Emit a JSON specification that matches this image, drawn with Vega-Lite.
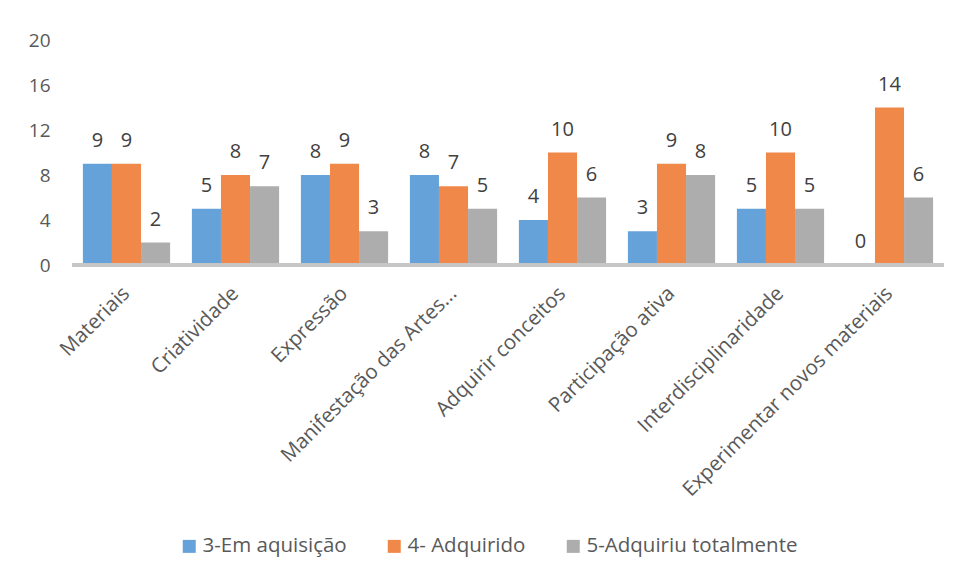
{
  "$schema": "https://vega.github.io/schema/vega-lite/v6.json",
  "width": 872,
  "height": 225,
  "autosize": {"type": "none"},
  "padding": {"left": 72, "top": 40, "right": 11, "bottom": 313},
  "background": "#ffffff",
  "config": {
    "view": {"stroke": null},
    "font": "Open Sans",
    "axis": {"labelFont": "Open Sans", "labelColor": "#595959", "domain": false, "ticks": false, "grid": false}
  },
  "data": {
    "values": [
      {"competencia": "Materiais", "nivel": "3-Em aquisição", "n": 9},
      {"competencia": "Materiais", "nivel": "4- Adquirido", "n": 9},
      {"competencia": "Materiais", "nivel": "5-Adquiriu totalmente", "n": 2},
      {"competencia": "Criatividade", "nivel": "3-Em aquisição", "n": 5},
      {"competencia": "Criatividade", "nivel": "4- Adquirido", "n": 8},
      {"competencia": "Criatividade", "nivel": "5-Adquiriu totalmente", "n": 7},
      {"competencia": "Expressão", "nivel": "3-Em aquisição", "n": 8},
      {"competencia": "Expressão", "nivel": "4- Adquirido", "n": 9},
      {"competencia": "Expressão", "nivel": "5-Adquiriu totalmente", "n": 3},
      {"competencia": "Manifestação das Artes...", "nivel": "3-Em aquisição", "n": 8},
      {"competencia": "Manifestação das Artes...", "nivel": "4- Adquirido", "n": 7},
      {"competencia": "Manifestação das Artes...", "nivel": "5-Adquiriu totalmente", "n": 5},
      {"competencia": "Adquirir conceitos", "nivel": "3-Em aquisição", "n": 4},
      {"competencia": "Adquirir conceitos", "nivel": "4- Adquirido", "n": 10},
      {"competencia": "Adquirir conceitos", "nivel": "5-Adquiriu totalmente", "n": 6},
      {"competencia": "Participação ativa", "nivel": "3-Em aquisição", "n": 3},
      {"competencia": "Participação ativa", "nivel": "4- Adquirido", "n": 9},
      {"competencia": "Participação ativa", "nivel": "5-Adquiriu totalmente", "n": 8},
      {"competencia": "Interdisciplinaridade", "nivel": "3-Em aquisição", "n": 5},
      {"competencia": "Interdisciplinaridade", "nivel": "4- Adquirido", "n": 10},
      {"competencia": "Interdisciplinaridade", "nivel": "5-Adquiriu totalmente", "n": 5},
      {"competencia": "Experimentar novos materiais", "nivel": "3-Em aquisição", "n": 0},
      {"competencia": "Experimentar novos materiais", "nivel": "4- Adquirido", "n": 14},
      {"competencia": "Experimentar novos materiais", "nivel": "5-Adquiriu totalmente", "n": 6}
    ]
  },
  "encoding": {
    "x": {
      "field": "competencia",
      "type": "nominal",
      "sort": null,
      "title": null,
      "scale": {"paddingInner": 0.2, "paddingOuter": 0.1},
      "axis": {"labelAngle": -45, "labelAlign": "right", "labelBaseline": "middle", "labelFontSize": 20.5, "labelPadding": 25, "labelLimit": 400}
    },
    "xOffset": {"field": "nivel", "type": "nominal", "sort": null},
    "y": {
      "field": "n",
      "type": "quantitative",
      "title": null,
      "scale": {"domain": [0, 20]},
      "axis": {"values": [0, 4, 8, 12, 16, 20], "labelFontSize": 19, "labelPadding": 22}
    }
  },
  "layer": [
    {
      "mark": {"type": "bar"},
      "encoding": {
        "color": {
          "field": "nivel",
          "type": "nominal",
          "sort": null,
          "scale": {"range": ["#65A2DA", "#F0884A", "#ADADAD"]},
          "legend": {
            "title": null,
            "orient": "none",
            "legendX": 107,
            "legendY": 496,
            "direction": "horizontal",
            "symbolType": "square",
            "symbolSize": 169,
            "symbolStrokeWidth": 0,
            "labelFontSize": 20.5,
            "labelColor": "#595959",
            "labelOffset": 3,
            "columnPadding": 37,
            "labelLimit": 400
          }
        }
      }
    },
    {
      "mark": {"type": "text", "fontSize": 20, "color": "#404040", "dy": -17, "baseline": "alphabetic"},
      "encoding": {"text": {"field": "n", "type": "quantitative"}}
    },
    {
      "mark": {"type": "rule", "color": "#C6C6C6", "strokeWidth": 3},
      "encoding": {"y": {"datum": 0}, "x": null, "xOffset": null}
    }
  ]
}
